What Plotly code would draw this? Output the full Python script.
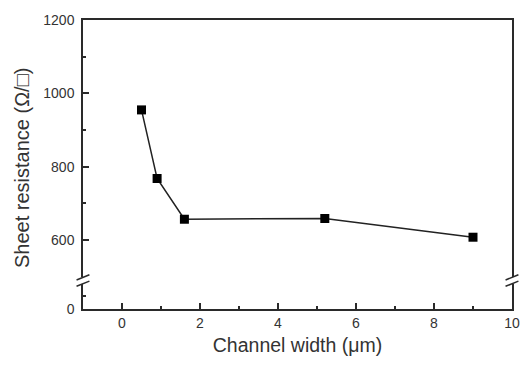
import plotly.graph_objects as go

channel_width = [0.5, 0.9, 1.6, 5.2, 9.0]
sheet_resistance = [955, 768, 657, 659, 608]

x_ticks = [0, 2, 4, 6, 8, 10]
y_ticks_upper = [600, 800, 1000, 1200]
y_ticks_lower = [0]

fig = go.Figure()
fig.add_trace(go.Scatter(
    x=channel_width, y=sheet_resistance, xaxis="x2", yaxis="y2",
    mode="lines+markers",
    line=dict(color="#222222", width=1.5),
    marker=dict(symbol="square", size=9, color="black"),
    showlegend=False, cliponaxis=False,
))
# empty trace so the lower (broken-off) axis segment is drawn
fig.add_trace(go.Scatter(x=[], y=[], xaxis="x", yaxis="y", showlegend=False, hoverinfo="skip"))

font = dict(family="Liberation Sans, Arial, sans-serif", color="#333333")
axcol = "#2a2a2a"

gap_lo, gap_hi = 0.087, 0.11

common_tick = dict(ticks="inside", ticklen=6, tickwidth=1.5, tickcolor=axcol,
                   showgrid=False, zeroline=False, automargin=False,
                   showline=True, linecolor=axcol, linewidth=1.5)

fig.update_layout(
    width=521, height=381,
    margin=dict(l=83, r=9, t=20, b=72),
    plot_bgcolor="white", paper_bgcolor="white",
    font=dict(size=14, **font),
    xaxis=dict(
        range=[-1, 10], anchor="y", tickvals=x_ticks,
        minor=dict(ticks="inside", ticklen=3, tickwidth=1.5, tickcolor=axcol, dtick=1, tick0=0),
        title=dict(text="Channel width (μm)", font=dict(size=19.5, **font), standoff=9),
        tickfont=dict(size=14, **font),
        **common_tick,
    ),
    xaxis2=dict(
        range=[-1, 10], matches="x", anchor="y2", side="top",
        showline=True, linecolor=axcol, linewidth=1.5, automargin=False,
        showticklabels=False, ticks="", showgrid=False, zeroline=False,
    ),
    yaxis=dict(
        domain=[0, gap_lo], range=[0, 70], tickvals=y_ticks_lower, anchor="x",
        mirror=True, ticklabelstandoff=4,
        minor=dict(ticks="inside", ticklen=3, tickwidth=1.5, tickcolor=axcol, tickvals=[35]),
        tickfont=dict(size=14, **font),
        **common_tick,
    ),
    yaxis2=dict(
        domain=[gap_hi, 1], range=[499, 1200], tickvals=y_ticks_upper, anchor="x2",
        mirror=True, ticklabelstandoff=4,
        minor=dict(ticks="inside", ticklen=3, tickwidth=1.5, tickcolor=axcol, dtick=100, tick0=0),
        tickfont=dict(size=14, **font),
        **common_tick,
    ),
    annotations=[dict(
        text="Sheet resistance (Ω/□)", textangle=-90,
        xref="paper", yref="paper", x=-0.142, y=0.488,
        xanchor="center", yanchor="middle", showarrow=False,
        font=dict(size=20, **font),
    )],
)

# break marks on left and right axes
shapes = []
ymid = (gap_lo + gap_hi) / 2
for xp in (0, 1):
    for dy in (-0.011, 0.011):
        yc = ymid + dy
        shapes.append(dict(
            type="line", xref="paper", yref="paper",
            x0=xp - 0.015, y0=yc - 0.009, x1=xp + 0.015, y1=yc + 0.009,
            line=dict(color=axcol, width=1.5),
        ))
fig.update_layout(shapes=shapes)

fig.write_html("out.html")
